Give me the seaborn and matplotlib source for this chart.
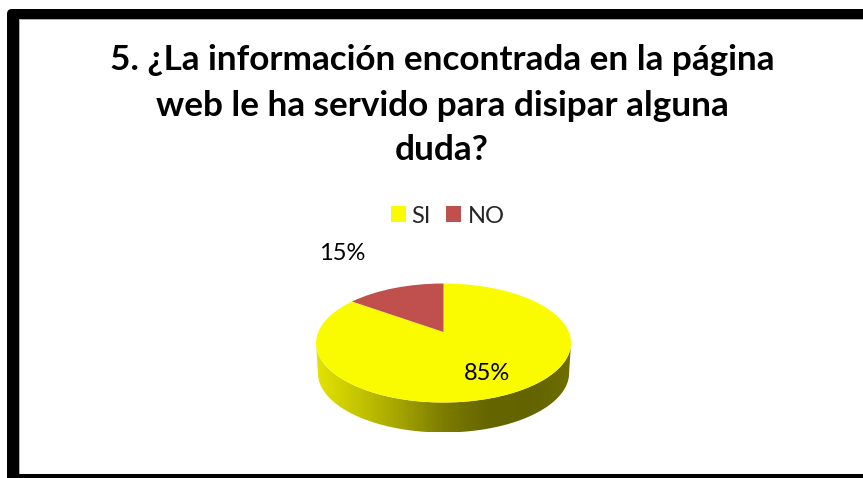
import numpy as np
import matplotlib
matplotlib.use("Agg")
import matplotlib.pyplot as plt
import seaborn as sns
from matplotlib.colors import LinearSegmentedColormap
from matplotlib.patches import FancyBboxPatch, Rectangle, PathPatch
from matplotlib.path import Path
from matplotlib.transforms import Transform

title_lines = ["5. ¿La información encontrada en la página",
               "web le ha servido para disipar alguna",
               "duda?"]
categories = ["SI", "NO"]
values = [85, 15]
colors = ["#FBFB00", "#C0504D"]
wall_colors = ["#E4E400", "#C4C400", "#A2A200", "#7C7C00", "#666600", "#636300", "#6E6E00"]

W, H = 863, 478
CX, CY = 443.5, 343.0   # rim ellipse centre in pixels
RX, RY = 127.5, 59.5    # rim ellipse radii
APEX = 11.0             # how far perspective lifts the pie centre
DEPTH = 30.0
K = APEX / RY
A = RX * np.sqrt(1 - K ** 2)


class Perspective(Transform):
    input_dims = 2
    output_dims = 2
    is_affine = False
    has_inverse = False

    def transform_non_affine(self, values):
        v = np.asarray(values, dtype=float)
        den = 1 + K * v[:, 1]
        return np.column_stack([CX + A * v[:, 0] / den,
                                CY - (RY * v[:, 1] + APEX) / den])


sns.set_theme(style="white")
plt.rcParams["font.family"] = ["Lato", "DejaVu Sans"]

fig = plt.figure(figsize=(W / 100, H / 100), dpi=100, facecolor="white")
ax = fig.add_axes([0, 0, 1, 1])

wedges, _ = ax.pie(values, colors=sns.color_palette(colors), startangle=90,
                   counterclock=False, radius=1.0)
ax.set_aspect("auto")
ax.set_xlim(0, W)
ax.set_ylim(H, 0)
ax.axis("off")

persp = Perspective() + ax.transData
for w in wedges:
    w.set_transform(persp)
    w.set_linewidth(0)
    w.set_zorder(4)
    w.set_clip_on(False)

# frame
ax.add_patch(FancyBboxPatch((12, 14), W + 60, H + 60, boxstyle="round,pad=5,rounding_size=5",
                            fc="black", ec="none", zorder=1))
ax.add_patch(Rectangle((19, 19), W, 455, fc="white", ec="none", zorder=1.1))
ax.add_patch(Rectangle((19, 19), 1, 455, fc="#B0B0B0", ec="none", zorder=1.2))
ax.add_patch(Rectangle((19, 19), W, 1, fc="#B0B0B0", ec="none", zorder=1.2))

# side wall of the disc, from the rim's front arc
t0 = np.arcsin(-K)
theta = np.linspace(np.pi - t0, 2 * np.pi + t0, 200)
rim = Perspective().transform_non_affine(np.column_stack([np.cos(theta), np.sin(theta)]))
low = rim.copy()
low[:, 0] = CX + (rim[:, 0] - CX) * 0.985
low[:, 1] = rim[:, 1] + DEPTH
verts = np.vstack([rim, low[::-1], rim[:1]])
clip = PathPatch(Path(verts, closed=True), transform=ax.transData, fc="none", ec="none")
ax.add_patch(clip)
cmap = LinearSegmentedColormap.from_list("wall", wall_colors)
img = ax.imshow(np.linspace(0, 1, 256)[None, :], cmap=cmap, aspect="auto",
                extent=(CX - RX, CX + RX, CY + RY + DEPTH, CY - RY), zorder=3)
img.set_clip_path(clip)
ax.set_xlim(0, W)
ax.set_ylim(H, 0)

# title
for line, y in zip(title_lines, [60, 106, 150]):
    ax.text(442, y, line, ha="center", va="center", fontsize=25.3, fontweight="bold",
            color="black", zorder=6)

# value labels
for v, (x, y) in zip(values, [(487, 374), (342.5, 254)]):
    ax.text(x, y, f"{v}%", ha="center", va="center", fontsize=17, color="black", zorder=6)

# legend
ax.legend(wedges, categories, loc="center", bbox_to_anchor=(447.5 / W, 1 - 216 / H),
          ncol=2, frameon=False, fontsize=17, handlelength=0.64, handleheight=0.64,
          handletextpad=0.25, columnspacing=0.65, borderpad=0, borderaxespad=0)

fig.savefig("out.png", dpi=100, facecolor="white")
